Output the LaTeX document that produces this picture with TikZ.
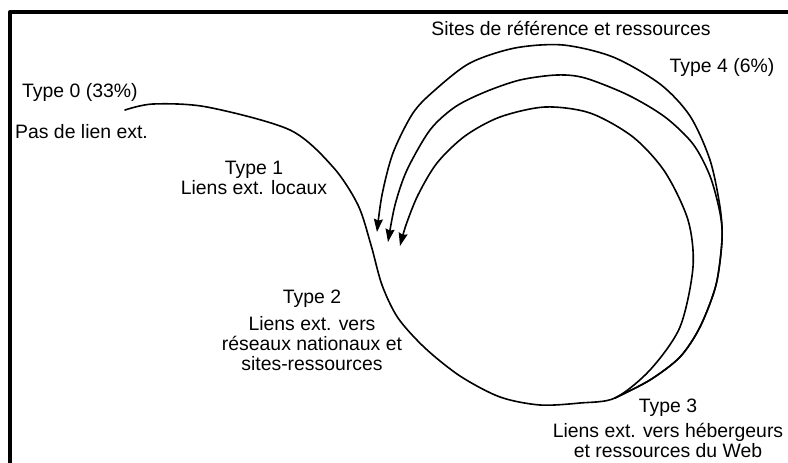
\documentclass[tikz,border=0pt]{standalone}
\usepackage{fontspec}
\setmainfont{Liberation Sans}
\usetikzlibrary{arrows.meta}

\begin{document}
\begin{tikzpicture}[x=1pt, y=-1pt, line join=round, line cap=round,
  >={Stealth[length=13pt, width=9pt, inset=1.5pt]},
  font=\fontsize{19.4}{20}\selectfont,
  courbe/.style={line width=1.6pt},
  etiquette/.style={inner sep=0pt, align=center}]
\useasboundingbox (0,0) rectangle (788,463);
% Cadre (bords gauche et haut)
\draw[line width=4pt, line cap=butt] (10,470) -- (10,12) -- (795,12);
% Points de depart et de jonction
\coordinate (depart) at (125,110);
\coordinate (jonction) at (615,398);
\coordinate (branche) at (722,240);
% Courbe principale : type 0 -> type 3 puis boucle interieure
\draw[courbe,->] plot[smooth] coordinates {(depart) (153,104) (207,107) (290,130) (333,167)
  (358,205) (371,245) (382,285) (398,318) (425,348) (460,376) (500,397) (540,405) (580,403)
  (jonction) (650,370) (680,327) (693,267) (688,220) (665,172) (633,137) (590,113) (545,107)
  (500,117) (465,136) (437,163) (418,195) (406,225) (400,246)};
% Boucle exterieure (type 4)
\draw[courbe,->] plot[smooth] coordinates {(jonction) (650,380) (680,357) (700,327) (716,285)
  (branche) (720,207) (710,160) (690,116) (660,84) (613,57) (563,45) (515,48) (470,63)
  (435,90) (413,113) (393,153) (382,195) (377,232)};
% Boucle du milieu
\draw[courbe,->] plot[smooth] coordinates {(jonction) (650,380) (680,357) (700,327) (716,285)
  (branche) (720,213) (710,176) (693,144) (665,117) (628,95) (585,78) (557,75) (520,80)
  (485,92) (455,107) (430,130) (407,170) (395,205) (388,242)};
% Etiquettes
\node[etiquette, anchor=west] (type0) at (22,92) {Type 0 (33\%)};
\node[etiquette, anchor=west] (pas) at (15,132) {Pas de lien ext.};
\node[etiquette] (type1) at (254,178) {Type 1\\Liens ext. locaux};
\node[etiquette] (type2) at (312,330) {Type 2\\[7pt]Liens ext. vers\\réseaux nationaux et\\sites-ressources};
\node[etiquette] (type3) at (668,428) {Type 3\\[5pt]Liens ext. vers hébergeurs\\et ressources du Web};
\node[etiquette] (sites) at (571,28) {Sites de référence et ressources};
\node[etiquette] (type4) at (722,67) {Type 4 (6\%)};
\end{tikzpicture}
\end{document}
